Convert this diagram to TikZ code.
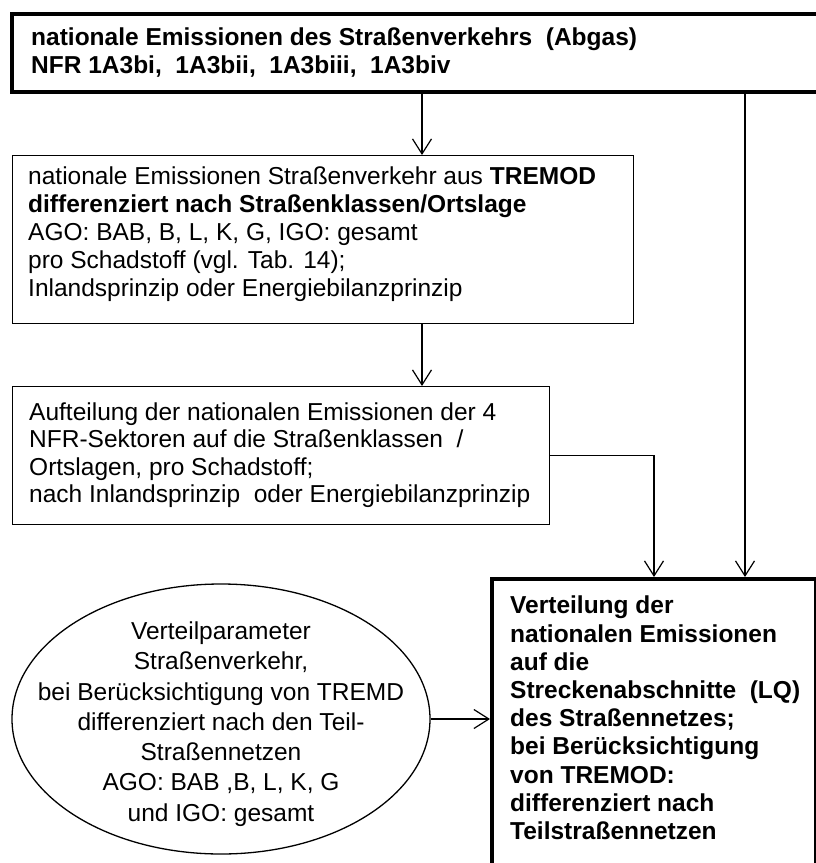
\documentclass[tikz,border=0pt]{standalone}
\usepackage{fontspec}
\setmainfont{Liberation Sans}
\usetikzlibrary{arrows.meta,shapes.geometric}

\tikzset{
  thinbox/.style={draw, line width=1.3pt, anchor=north west, inner sep=0pt},
  thickbox/.style={draw, line width=3.5pt, anchor=north west, inner sep=0pt},
  txt/.style={align=left, inner sep=0pt, anchor=west},
  arr/.style={line width=1.2pt, -{Straight Barb[length=15pt,width=19pt,line width=1.2pt]}},
}

\begin{document}
\begin{tikzpicture}[x=1pt, y=-1pt, font=\fontsize{24.5}{27.5}\selectfont]
  \useasboundingbox (0,0) rectangle (816,863);
  \clip (0,0) rectangle (816,863);

  % source: national road traffic emissions (runs off the right edge)
  \node[thickbox, minimum width=830pt, minimum height=78pt] (top) at (10,12) {};
  \node[txt, font=\fontsize{24.5}{28}\selectfont\bfseries] (toptxt) at (31,53)
    {nationale Emissionen des Straßenverkehrs\ \ (Abgas)\\
     NFR 1A3bi,\ \ 1A3bii,\ \ 1A3biii,\ \ 1A3biv};

  % TREMOD breakdown
  \node[thinbox, minimum width=621pt, minimum height=168pt] (tremod) at (12,155) {};
  \node[txt, font=\fontsize{24.5}{28}\selectfont] (tremodtxt) at (28,234)
    {nationale Emissionen Straßenverkehr aus \textbf{TREMOD}\\
     \textbf{differenziert nach Straßenklassen/Ortslage}\\
     AGO: BAB, B, L, K, G, IGO: gesamt\\
     pro Schadstoff (vgl. Tab. 14);\\
     Inlandsprinzip oder Energiebilanzprinzip};

  % split onto road classes
  \node[thinbox, minimum width=537pt, minimum height=138pt] (split) at (12,386) {};
  \node[txt] (splittxt) at (29,455)
    {Aufteilung der nationalen Emissionen der 4\\
     NFR-Sektoren auf die Straßenklassen\ \ /\\
     Ortslagen, pro Schadstoff;\\
     nach Inlandsprinzip\ \ oder Energiebilanzprinzip};

  % distribution parameters
  \node[draw, ellipse, line width=1.3pt, minimum width=418pt, minimum height=270pt, inner sep=0pt] (param) at (221,719) {};
  \node[align=center, inner sep=0pt, font=\fontsize{24.5}{30.3}\selectfont] (paramtxt) at (221,724)
    {Verteilparameter\\
     Straßenverkehr,\\
     bei Berücksichtigung von TREMD\\
     differenziert nach den Teil-\\
     Straßennetzen\\
     AGO: BAB ,B, L, K, G\\
     und IGO: gesamt};

  % target: distribution onto the road sections (runs off the bottom edge)
  \node[thickbox, minimum width=324pt, minimum height=320pt] (target) at (490,577) {};
  \node[txt, anchor=north west, font=\fontsize{24.5}{28.2}\selectfont\bfseries] (targettxt) at (510,596)
    {Verteilung der\\
     nationalen Emissionen\\
     auf die\\
     Streckenabschnitte\ \ (LQ)\\
     des Straßennetzes;\\
     bei Berücksichtigung\\
     von TREMOD:\\
     differenziert nach\\
     Teilstraßennetzen};

  % connectors
  \coordinate (midx) at (422,0);
  \coordinate (rightx) at (745,0);
  \coordinate (joinx) at (654,0);
  \draw[arr] (top.south -| midx) -- (tremod.north -| midx);
  \draw[arr] (tremod.south -| midx) -- (split.north -| midx);
  \draw[arr] (split.east) -| (target.north -| joinx);
  \draw[arr] (top.south -| rightx) -- (target.north -| rightx);
  \draw[arr] (param.east) -- (param.east -| target.west);
\end{tikzpicture}
\end{document}
